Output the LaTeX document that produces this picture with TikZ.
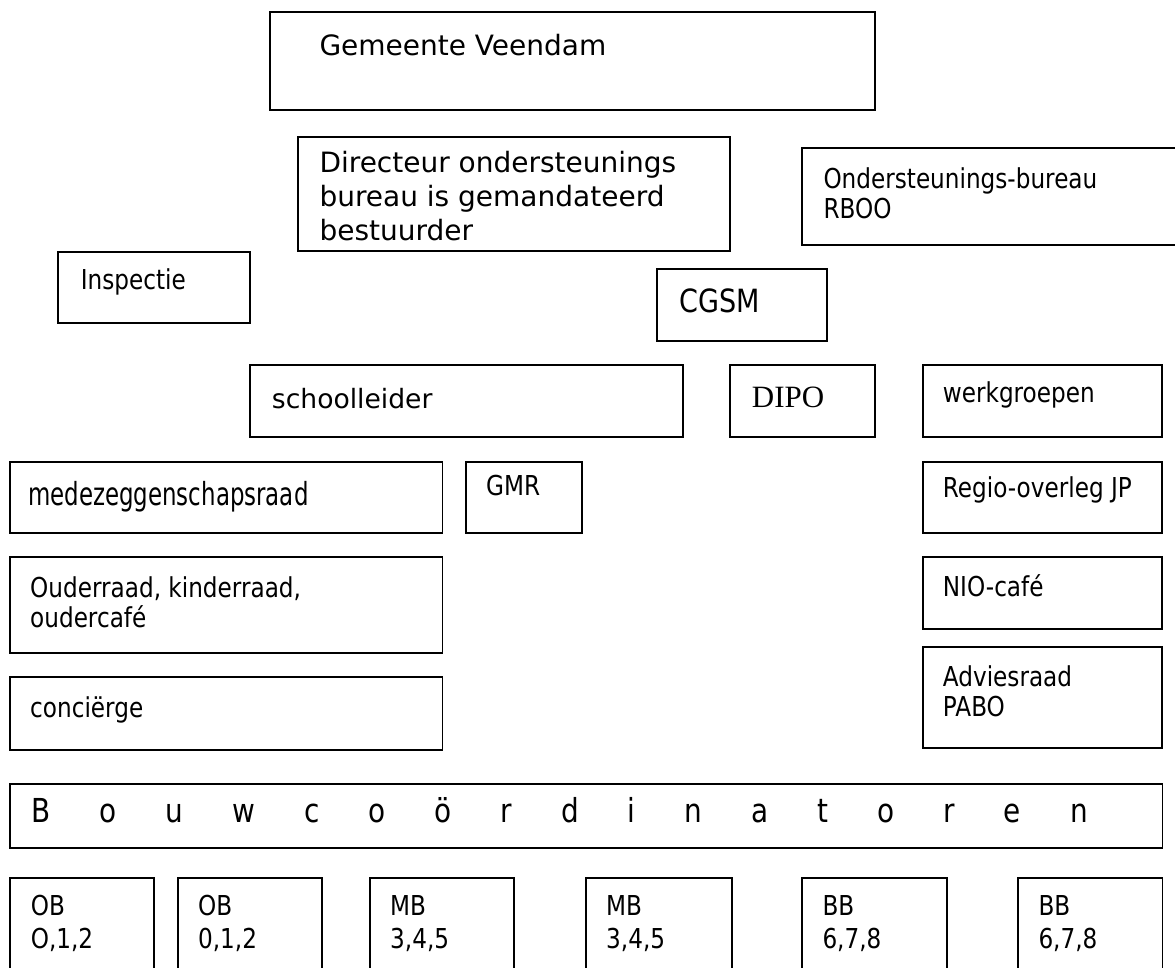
\documentclass[tikz,border=0pt]{standalone}
\usepackage{fontspec}
\newfontfamily\fv{DejaVu Sans}
\newfontfamily\ft[FakeStretch=0.845]{DejaVu Sans}
\newfontfamily\fn[FakeStretch=0.72]{DejaVu Sans}
\newfontfamily\fser{Liberation Serif}
\newcommand\ks{\kern49pt\relax}
\tikzset{
  box/.style={draw=black, line width=1.8pt},
  txt/.style={anchor=base west, inner sep=0pt, align=left, font=\ft\fontsize{27.4}{30}\selectfont},
  vtxt/.style={txt, font=\fv\fontsize{28}{34}\selectfont},
  btxt/.style={txt, font=\ft\fontsize{27.4}{33}\selectfont},
}
\begin{document}
\begin{tikzpicture}[x=1pt,y=-1pt]
\useasboundingbox (0,0) rectangle (1175,967);
\clip (0,0) rectangle (1175,967);
\fill[white] (0,0) rectangle (1175,967);

% top (multi-line nodes: base anchor = last line baseline)
\draw[box] (270,12) rectangle (875,110);
\node[vtxt] (gem) at (319.3,55) {Gemeente Veendam};

\draw[box] (297.7,137) rectangle (730,250.7);
\node[vtxt] (dir) at (319.3,240) {Directeur ondersteunings\\bureau is gemandateerd\\bestuurder};

\draw[box] (801.7,148.3) rectangle (1190,245);
\node[txt] (obur) at (823.3,218.3) {Ondersteunings-bureau\\RBOO};

\draw[box] (58.3,251.7) rectangle (250,323.3);
\node[txt] (insp) at (80.7,289.3) {Inspectie};

\draw[box] (657.3,269) rectangle (826.7,341);
\node[txt, font=\ft\fontsize{32}{34}\selectfont] (cgsm) at (679,312.7) {CGSM};

% row schoolleider
\draw[box] (250,365) rectangle (683.3,436.7);
\node[txt, font=\fv\fontsize{26.6}{30}\selectfont] (sl) at (271.7,408.3) {schoolleider};

\draw[box] (730,365) rectangle (875,436.7);
\node[txt, font=\fser\fontsize{31}{34}\selectfont] (dipo) at (751.7,407) {DIPO};

\draw[box] (922.7,365) rectangle (1161.7,436.7);
\node[txt] (wg) at (942.7,402) {werkgroepen};

% row medezeggenschapsraad
\draw[box] (9.9,461.7) rectangle (442.5,532.7);
\node[txt, font=\fn\fontsize{31.8}{35}\selectfont] (mr) at (28,505) {medezeggenschapsraad};

\draw[box] (465.8,461.7) rectangle (582,532.7);
\node[txt] (gmr) at (486,495) {GMR};

\draw[box] (922.7,461.7) rectangle (1161.7,532.7);
\node[txt] (regio) at (942.7,497) {Regio-overleg JP};

% lower rows
\draw[box] (9.9,557.3) rectangle (442.5,653.3);
\node[txt] (ouder) at (30,627) {Ouderraad, kinderraad,\\oudercafé};

\draw[box] (922.7,556.7) rectangle (1161.7,629);
\node[txt] (nio) at (942.7,596) {NIO-café};

\draw[box] (9.9,676.7) rectangle (442.5,750);
\node[txt] (conc) at (30,717) {conciërge};

\draw[box] (922.7,647) rectangle (1161.7,748);
\node[txt] (advies) at (942.7,716) {Adviesraad\\PABO};

% bouwcoordinatoren
\draw[box] (10.3,784) rectangle (1162.5,848);
\node[txt, font=\ft\fontsize{33}{36}\selectfont] (bouw) at (31.5,822)
  {B\ks o\ks u\ks w\ks c\ks o\ks ö\ks r\ks d\ks i\ks n\ks a\ks t\ks o\ks r\ks e\ks n};

% bottom boxes
\draw[box] (10.3,878.3) rectangle (154.2,990);
\node[btxt] (b1) at (30.6,948) {OB\\O,1,2};
\draw[box] (177.6,878.3) rectangle (322.2,990);
\node[btxt] (b2) at (197.9,948) {OB\\0,1,2};
\draw[box] (369.7,878.3) rectangle (514,990);
\node[btxt] (b3) at (390,948) {MB\\3,4,5};
\draw[box] (585.7,878.3) rectangle (731.9,990);
\node[btxt] (b4) at (606,948) {MB\\3,4,5};
\draw[box] (802,878.3) rectangle (946.6,990);
\node[btxt] (b5) at (822.3,948) {BB\\6,7,8};
\draw[box] (1018,878.3) rectangle (1162.5,990);
\node[btxt] (b6) at (1038.3,948) {BB\\6,7,8};
\end{tikzpicture}
\end{document}
